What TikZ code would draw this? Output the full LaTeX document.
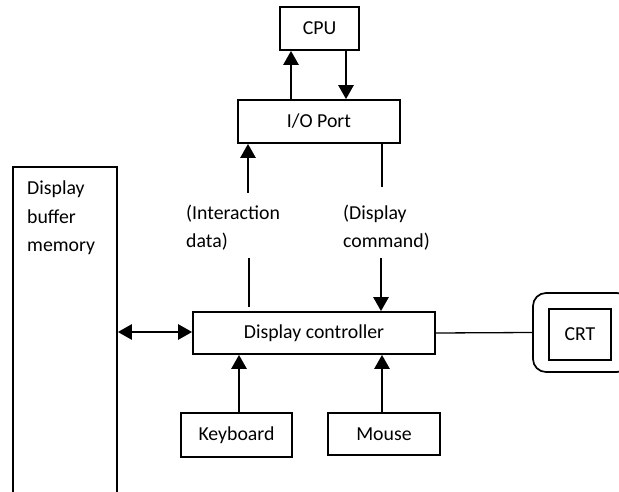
\documentclass[tikz,border=0pt]{standalone}
\usepackage{fontspec}
\setmainfont{Carlito}
\usetikzlibrary{arrows.meta}
\tikzset{
  box/.style={draw, line width=1.7pt, inner sep=0pt, font=\fontsize{19.8}{28.5}\selectfont},
  lbl/.style={inner sep=0pt, align=left, anchor=west, font=\fontsize{19.8}{28.5}\selectfont},
  arr/.style={line width=2.5pt, -{Triangle[length=14pt,width=15pt]}},
  darr/.style={line width=2.5pt, {Triangle[length=14pt,width=15pt]}-{Triangle[length=14pt,width=15pt]}},
  thin/.style={line width=1.3pt}
}
\begin{document}
\begin{tikzpicture}[x=1pt,y=-1pt]
\useasboundingbox (0,0) rectangle (619,492);
% boxes
\node[box, minimum width=79pt, minimum height=43pt] (cpu) at (319.5,28.5) {CPU};
\node[box, minimum width=162pt, minimum height=43pt] (io) at (319,121.5) {I/O Port};
\node[box, minimum width=104pt, minimum height=346pt] (buf) at (65,340) {};
\node[lbl] (buftxt) at (27,218) {Display\\buffer\\memory};
\node[box, minimum width=242pt, minimum height=42pt] (ctrl) at (314,333) {Display controller};
\node[box, minimum width=111pt, minimum height=44pt] (kb) at (236.5,435) {Keyboard};
\node[box, minimum width=112pt, minimum height=42pt] (mouse) at (384,434) {Mouse};
\node[box, rounded corners=13pt, minimum width=97pt, minimum height=79pt] (crtout) at (581.5,332.5) {};
\node[box, minimum width=62pt, minimum height=51pt] (crt) at (580,334.5) {CRT};
\node[lbl] (itxt) at (186,227.5) {(Interaction\\data)};
\node[lbl] (ctxt) at (343,227.5) {(Display\\command)};
% coordinates for connector positions
\coordinate (xa) at (291,0);
\coordinate (xb) at (346,0);
\coordinate (ia1) at (248,193);
\coordinate (ib1) at (249,258);
\coordinate (ib2) at (249,307);
\coordinate (ca1) at (382,187);
\coordinate (cb1) at (381,258);
\coordinate (xk) at (239,0);
\coordinate (xm) at (382,0);
\coordinate (yd) at (0,332);
% connectors
\draw[arr] (io.north -| xa) -- (cpu.south -| xa);
\draw[arr] (cpu.south -| xb) -- (io.north -| xb);
\draw[arr] (ia1) -- (io.south -| ia1);
\draw[thin] (ib1) -- (ib2);
\draw[thin] (io.south -| ca1) -- (ca1);
\draw[arr] (cb1) -- (ctrl.north -| cb1);
\draw[darr] (buf.east |- yd) -- (ctrl.west |- yd);
\draw[arr] (kb.north -| xk) -- (ctrl.south -| xk);
\draw[arr] (mouse.north -| xm) -- (ctrl.south -| xm);
\draw[thin] (ctrl.east) -- (crtout.west);
\end{tikzpicture}
\end{document}
